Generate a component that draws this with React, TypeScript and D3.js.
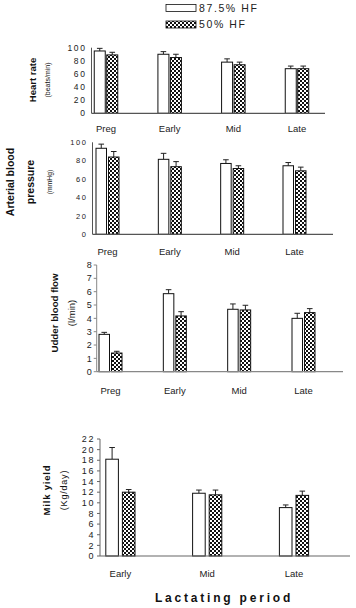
import React from "react";
import * as d3 from "d3";

// ---- Data ----
const periods4 = ["Preg", "Early", "Mid", "Late"];
const periods3 = ["Early", "Mid", "Late"];
const seriesNames = ["87.5% HF", "50% HF"];

const heartRate875 = [95, 90, 78, 68];
const heartRateErr875 = [4, 4, 5, 4];
const heartRate50 = [89, 85, 74, 68];
const heartRateErr50 = [4, 5, 4, 4];

const abp875 = [93.5, 81.5, 77, 74.5];
const abpErr875 = [4.5, 6.5, 4, 3.5];
const abp50 = [84, 73.5, 71.5, 69];
const abpErr50 = [6, 5.5, 3, 4];

const ubf875 = [2.8, 5.85, 4.68, 4.0];
const ubfErr875 = [0.15, 0.3, 0.4, 0.38];
const ubf50 = [1.4, 4.18, 4.63, 4.43];
const ubfErr50 = [0.13, 0.32, 0.35, 0.3];

const milk875 = [18.2, 11.8, 9.1];
const milkErr875 = [2.2, 0.6, 0.5];
const milk50 = [12.0, 11.5, 11.4];
const milkErr50 = [0.5, 0.9, 0.8];

const ticksHR = [0, 20, 40, 60, 80, 100];
const ticksABP = [0, 20, 40, 60, 80, 100];
const ticksUBF = [0, 1, 2, 3, 4, 5, 6, 7, 8];
const ticksMilk = [0, 2, 4, 6, 8, 10, 12, 14, 16, 18, 20, 22];

const FONT = "'Liberation Sans', Arial, sans-serif";

type Panel = {
  cats: string[];
  a: number[];
  aErr: number[];
  b: number[];
  bErr: number[];
  ticks: number[];
  yMax: number;
  axisX: number;
  xEnd: number;
  y0: number;
  yTop: number;
  cFirst: number;
  cLast: number;
  barW: number;
  gap: number;
  labelY: number;
  tickFont: number;
  tickSpacing: number;
  tickLen: number;
  titles: { text: string; x: number; size: number; bold: boolean; ls?: number }[];
  titleY: number;
  axisColor: string;
};

const panels: Panel[] = [
  {
    cats: periods4, a: heartRate875, aErr: heartRateErr875, b: heartRate50, bErr: heartRateErr50,
    ticks: ticksHR, yMax: 100, axisX: 91.5, xEnd: 325, y0: 113.3, yTop: 47.7,
    cFirst: 106, cLast: 297, barW: 11, gap: 1.5, labelY: 132, tickFont: 8.5, tickSpacing: 1.6, tickLen: 0,
    titles: [
      { text: "Heart rate", x: 33, size: 9.5, bold: true },
      { text: "(beats/min)", x: 48, size: 7, bold: false },
    ],
    titleY: 80, axisColor: "#555",
  },
  {
    cats: periods4, a: abp875, aErr: abpErr875, b: abp50, bErr: abpErr50,
    ticks: ticksABP, yMax: 100, axisX: 92.5, xEnd: 333, y0: 234.3, yTop: 142.3,
    cFirst: 107.5, cLast: 294.5, barW: 10.5, gap: 2, labelY: 255, tickFont: 7.5, tickSpacing: 1.6, tickLen: 0,
    titles: [
      { text: "Arterial blood", x: 10, size: 10.5, bold: true },
      { text: "pressure", x: 30, size: 10.5, bold: true },
      { text: "(mmHg)", x: 49.5, size: 6.8, bold: false },
    ],
    titleY: 182, axisColor: "#555",
  },
  {
    cats: periods4, a: ubf875, aErr: ubfErr875, b: ubf50, bErr: ubfErr50,
    ticks: ticksUBF, yMax: 8, axisX: 96.7, xEnd: 343, y0: 371.7, yTop: 265,
    cFirst: 110.5, cLast: 303.5, barW: 10.5, gap: 2, labelY: 394, tickFont: 9, tickSpacing: 0, tickLen: 3,
    titles: [
      { text: "Udder blood flow", x: 55, size: 9.7, bold: true },
      { text: "(l/min)", x: 72, size: 9.5, bold: false },
    ],
    titleY: 313, axisColor: "#888",
  },
  {
    cats: periods3, a: milk875, aErr: milkErr875, b: milk50, bErr: milkErr50,
    ticks: ticksMilk, yMax: 22, axisX: 100, xEnd: 350, y0: 556, yTop: 439,
    cFirst: 120.4, cLast: 294, barW: 12.6, gap: 4, labelY: 576.5, tickFont: 9, tickSpacing: 1.6, tickLen: 3,
    titles: [
      { text: "Milk yield", x: 47, size: 9.5, bold: true, ls: 0.8 },
      { text: "(Kg/day)", x: 63.5, size: 9, bold: false, ls: 0.8 },
    ],
    titleY: 490, axisColor: "#666",
  },
];

function PanelView({ p, idx }: { p: Panel; idx: number }) {
  const y = d3.scaleLinear().domain([0, p.yMax]).range([p.y0, p.yTop]);
  const x = d3.scalePoint<string>().domain(p.cats).range([p.cFirst, p.cLast]);
  const series = [
    { vals: p.a, errs: p.aErr, fill: "#fff", side: -1 },
    { vals: p.b, errs: p.bErr, fill: "url(#checker)", side: 1 },
  ];
  return (
    <g>
      {series.map((s, si) =>
        p.cats.map((c, i) => {
          const cx = x(c)!;
          const left = s.side < 0 ? cx - p.gap / 2 - p.barW : cx + p.gap / 2;
          const top = y(s.vals[i]);
          const errTop = y(s.vals[i] + s.errs[i]);
          const mid = left + p.barW / 2;
          return (
            <g key={`${idx}-${si}-${i}`}>
              <line x1={mid} x2={mid} y1={top} y2={errTop} stroke="#222" strokeWidth={1} />
              <line x1={mid - 2.8} x2={mid + 2.8} y1={errTop} y2={errTop} stroke="#222" strokeWidth={1} />
              <rect x={left} y={top} width={p.barW} height={p.y0 - top} fill={s.fill} stroke="#111" strokeWidth={1} />
            </g>
          );
        })
      )}
      <line x1={p.axisX} x2={p.axisX} y1={p.yTop} y2={p.y0} stroke={p.axisColor} strokeWidth={1} />
      <line x1={p.axisX} x2={p.xEnd} y1={p.y0} y2={p.y0} stroke={p.axisColor} strokeWidth={1.2} />
      {p.ticks.map((t) => (
        <g key={`t${idx}-${t}`}>
          {p.tickLen > 0 && (
            <line x1={p.axisX - p.tickLen} x2={p.axisX} y1={y(t)} y2={y(t)} stroke={p.axisColor} strokeWidth={1} />
          )}
          <text
            x={p.axisX - 5}
            y={y(t)}
            dy="0.35em"
            textAnchor="end"
            fontSize={p.tickFont}
            fontFamily={FONT}
            fill="#222"
            letterSpacing={p.tickSpacing}
          >
            {String(t)}
          </text>
        </g>
      ))}
      {p.cats.map((c) => (
        <text key={`c${idx}-${c}`} x={x(c)!} y={p.labelY} textAnchor="middle" fontSize={9.5} fontFamily={FONT} fill="#222">
          {c}
        </text>
      ))}
      {p.titles.map((t, ti) => (
        <text
          key={`ti${idx}-${ti}`}
          transform={`translate(${t.x},${p.titleY}) rotate(-90)`}
          textAnchor="middle"
          dy="0.35em"
          fontSize={t.size}
          fontWeight={t.bold ? "bold" : "normal"}
          fontFamily={FONT}
          letterSpacing={t.ls ?? 0}
          fill="#111"
        >
          {t.text}
        </text>
      ))}
    </g>
  );
}

export default function App() {
  return (
    <svg
      width={356}
      height={608}
      style={{ position: "absolute", left: 0, top: 0, background: "#fff" }}
    >
      <defs>
        <pattern id="checker" width={4} height={4} patternUnits="userSpaceOnUse">
          <rect width={4} height={4} fill="#fff" />
          <rect x={0} y={0} width={2} height={2} fill="#111" />
          <rect x={2} y={2} width={2} height={2} fill="#111" />
        </pattern>
      </defs>
      {seriesNames.map((n, i) => (
        <g key={n}>
          <rect
            x={166}
            y={4.5 + i * 16.5}
            width={30}
            height={7}
            fill={i === 0 ? "#fff" : "url(#checker)"}
            stroke="#111"
            strokeWidth={0.8}
          />
          <text x={199} y={8 + i * 16.5} dy="0.36em" fontSize={10.5} fontFamily={FONT} letterSpacing={1.6} fill="#222">
            {n}
          </text>
        </g>
      ))}
      {panels.map((p, i) => (
        <PanelView key={i} p={p} idx={i} />
      ))}
      <text x={224} y={598} dy="0.35em" textAnchor="middle" fontSize={12} fontWeight="bold" fontFamily={FONT} letterSpacing={2.8} fill="#111">
        Lactating period
      </text>
    </svg>
  );
}
